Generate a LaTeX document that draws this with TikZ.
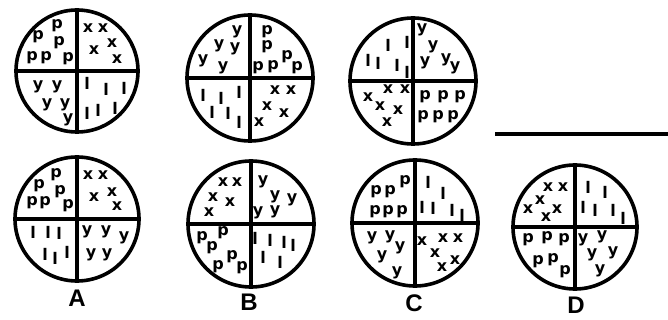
\documentclass[tikz,border=0pt]{standalone}
\usepackage{fontspec}
\setmainfont{Liberation Sans}
\newfontfamily\markfont{DejaVu Sans}
\tikzset{
  disc/.style={circle, draw, line width=3.6pt, minimum size=#1, inner sep=0pt},
  cross/.style={line width=3.2pt},
  lt/.style={font=\markfont\fontsize{16}{16}\selectfont\bfseries, inner sep=0pt},
  tag/.style={font=\fontsize{24}{24}\selectfont\bfseries, inner sep=0pt},
}
% quadrant lines of a disc
\newcommand{\crossdisc}[1]{\draw[cross] (#1.north) -- (#1.south) (#1.west) -- (#1.east);}
% letters of one quadrant: name, letter, positions
\newcommand{\quadmarks}[3]{\foreach \px/\py [count=\i] in {#3} \node[lt] (#1\i) at (\px,\py) {#2};}

\begin{document}
\begin{tikzpicture}[x=1pt, y=-1pt]
  \useasboundingbox (0,0) rectangle (668,320);

  % top row
  \node[disc=122pt] (tA) at (77,71) {};
  \node[disc=126pt] (tB) at (250,78) {};
  \node[disc=126pt] (tC) at (413,81) {};
  \crossdisc{tA} \crossdisc{tB} \crossdisc{tC}
  \coordinate (ls) at (495,134);
  \coordinate (le) at (668,134);
  \draw[line width=4pt] (ls) -- (le);

  \quadmarks{tAp}{p}{38/37,57/26,59/43,32/58,46/58,68/59}
  \quadmarks{tAx}{x}{88/28,103/28,94/50,112/43,117/59}
  \quadmarks{tAy}{y}{38/87,57/87,47/105,65/105,68/120}
  \quadmarks{tAl}{l}{87/83,106/89,124/88,87/113,98/110,115/108}

  \quadmarks{tBy}{y}{237/32,219/46,235/49,203/61,223/68}
  \quadmarks{tBp}{p}{267/32,267/47,287/57,258/68,273/67,297/68}
  \quadmarks{tBl}{l}{203/95,221/98,239/92,212/112,228/113,239/122}
  \quadmarks{tBx}{x}{275/90,291/90,267/106,284/113,259/122}

  \quadmarks{tCl}{l}{368/60,378/63,388/45,397/65,407/42,407/72}
  \quadmarks{tCy}{y}{422/30,433/47,425/63,446/60,455/68}
  \quadmarks{tCx}{x}{368/97,388/89,405/89,380/106,398/110,387/122}
  \quadmarks{tCp}{p}{425/97,443/97,460/97,423/117,438/117,453/117}

  % bottom row
  \node[disc=124pt] (bA) at (77,219) {};
  \node[disc=126pt] (bB) at (251,224) {};
  \node[disc=126pt] (bC) at (415,223) {};
  \node[disc=124pt] (bD) at (575,227) {};
  \crossdisc{bA} \crossdisc{bB} \crossdisc{bC} \crossdisc{bD}

  \quadmarks{bAp}{p}{39/186,56/175,60/192,32/203,45/203,68/206}
  \quadmarks{bAx}{x}{88/175,103/175,94/197,112/192,117/206}
  \quadmarks{bAl}{l}{33/232,48/232,59/233,45/254,55/258,67/252}
  \quadmarks{bAy}{y}{87/232,106/232,124/238,91/255,107/255}

  \quadmarks{bBx}{x}{223/182,237/182,213/197,230/202,209/212}
  \quadmarks{bBy}{y}{263/182,275/197,292/200,258/213,275/212}
  \quadmarks{bBp}{p}{202/238,223/233,212/248,232/257,218/267,242/268}
  \quadmarks{bBl}{l}{255/238,270/240,284/242,293/245,263/257,280/262}

  \quadmarks{bCp}{p}{376/192,390/192,405/182,375/212,388/212,402/212}
  \quadmarks{bCl}{l}{428/182,443/193,422/207,433/208,452/210,462/215}
  \quadmarks{bCy}{y}{372/238,390/237,382/257,400/248,397/273}
  \quadmarks{bCx}{x}{422/241,443/238,458/238,435/253,442/267,455/260}

  \quadmarks{bDx}{x}{548/187,563/187,540/200,528/209,557/209,546/217}
  \quadmarks{bDl}{l}{588/187,605/192,583/207,595/210,613/210,623/218}
  \quadmarks{bDp}{p}{528/240,547/238,564/240,538/262,553/260,565/272}
  \quadmarks{bDy}{y}{583/240,602/237,613/253,592/255,600/271}

  % option labels
  \node[tag] (labA) at (77,298) {A};
  \node[tag] (labB) at (249,302) {B};
  \node[tag] (labC) at (414,303) {C};
  \node[tag] (labD) at (576,305) {D};
\end{tikzpicture}
\end{document}
